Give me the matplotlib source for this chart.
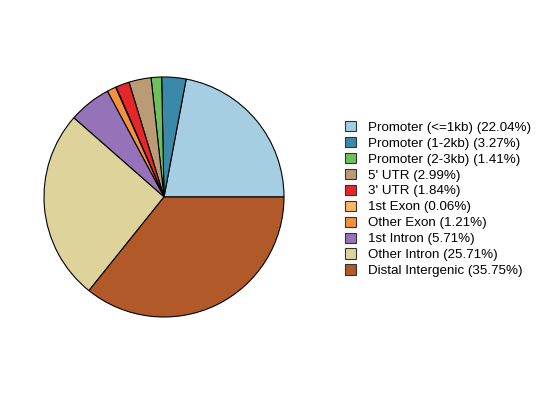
import matplotlib
matplotlib.use("Agg")
import matplotlib.pyplot as plt
from matplotlib.patches import Patch

plt.rcParams['font.family'] = ['Liberation Sans', 'DejaVu Sans']

categories = ["Promoter (<=1kb)", "Promoter (1-2kb)", "Promoter (2-3kb)", "5' UTR", "3' UTR",
              "1st Exon", "Other Exon", "1st Intron", "Other Intron", "Distal Intergenic"]
values = [22.04, 3.27, 1.41, 2.99, 1.84, 0.06, 1.21, 5.71, 25.71, 35.75]
colors = ["#A6CEE3", "#3A89A9", "#6CC15C", "#BB9B76", "#E5262A",
          "#FDB863", "#F4913D", "#9672B8", "#DED49B", "#B15928"]

W, H = 543, 395
fig = plt.figure(figsize=(W / 100, H / 100), dpi=100)
cx, cy, r = 164, 197, 120
ax = fig.add_axes([(cx - r) / W, (H - cy - r) / H, 2 * r / W, 2 * r / H])
ax.pie(values, colors=colors, startangle=0, counterclock=True,
       wedgeprops=dict(edgecolor="black", linewidth=0.8))
ax.set_xlim(-1, 1)
ax.set_ylim(-1, 1)
ax.set_aspect("equal")
ax.axis("off")

labels = [f"{c} ({v:.2f}%)" for c, v in zip(categories, values)]
handles = [Patch(facecolor=c, edgecolor="#333333", linewidth=0.8) for c in colors]
fig.legend(handles, labels, loc="upper left", bbox_to_anchor=(345 / W, 1 - 121 / H),
           frameon=False, fontsize=9.6, handlelength=0.8, handleheight=0.8,
           handletextpad=0.9, labelspacing=0.24, borderaxespad=0, borderpad=0)

fig.savefig("out.png", dpi=100)
